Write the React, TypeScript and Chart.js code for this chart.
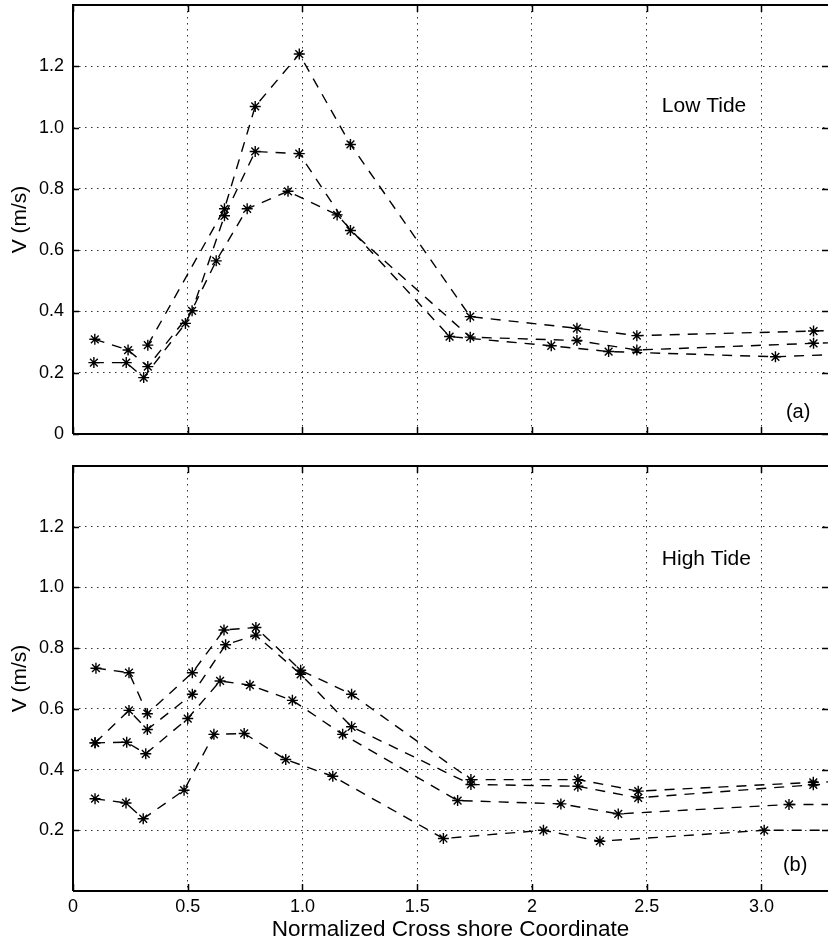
import React, { useEffect, useRef } from 'react';
import { Chart, registerables } from 'chart.js';

Chart.register(...registerables);

// ---- axes ----
const xTicks = [0, 0.5, 1.0, 1.5, 2.0, 2.5, 3.0];
const xTickLabels = ['0', '0.5', '1.0', '1.5', '2', '2.5', '3.0'];
const yTicksLow = [0, 0.2, 0.4, 0.6, 0.8, 1.0, 1.2];
const yTickLabelsLow = ['0', '0.2', '0.4', '0.6', '0.8', '1.0', '1.2'];
const yTicksHigh = [0.2, 0.4, 0.6, 0.8, 1.0, 1.2];
const yTickLabelsHigh = ['0.2', '0.4', '0.6', '0.8', '1.0', '1.2'];
const X_MAX = 3.29;
const Y_MAX = 1.4;

// ---- Low tide (a) ----
const lowAx = [0.326, 0.66, 0.794, 0.986, 1.209, 1.731, 2.196, 2.457, 3.227, 3.4];
const lowAy = [0.29, 0.735, 1.069, 1.24, 0.945, 0.383, 0.345, 0.321, 0.336, 0.34];
const lowBx = [0.095, 0.24, 0.326, 0.519, 0.66, 0.794, 0.986, 1.209, 1.731, 2.196, 2.457, 3.227, 3.4];
const lowBy = [0.309, 0.274, 0.22, 0.402, 0.712, 0.922, 0.915, 0.664, 0.316, 0.305, 0.274, 0.296, 0.3];
const lowCx = [0.091, 0.232, 0.308, 0.49, 0.624, 0.759, 0.937, 1.151, 1.641, 2.084, 2.334, 3.061, 3.4];
const lowCy = [0.233, 0.233, 0.184, 0.361, 0.565, 0.735, 0.792, 0.715, 0.318, 0.288, 0.269, 0.252, 0.262];

// ---- High tide (b) ----
const highAx = [0.1, 0.244, 0.324, 0.52, 0.658, 0.797, 0.992, 1.214, 1.734, 2.2, 2.463, 3.226, 3.4];
const highAy = [0.734, 0.719, 0.584, 0.719, 0.86, 0.868, 0.727, 0.648, 0.367, 0.367, 0.329, 0.358, 0.362];
const highBx = [0.096, 0.244, 0.324, 0.52, 0.665, 0.797, 0.992, 1.214, 1.734, 2.2, 2.463, 3.226, 3.4];
const highBy = [0.488, 0.595, 0.532, 0.648, 0.811, 0.843, 0.714, 0.541, 0.351, 0.345, 0.307, 0.35, 0.355];
const highCx = [0.096, 0.234, 0.317, 0.5, 0.641, 0.771, 0.956, 1.175, 1.676, 2.126, 2.376, 3.12, 3.4];
const highCy = [0.488, 0.49, 0.452, 0.568, 0.692, 0.678, 0.628, 0.516, 0.298, 0.287, 0.254, 0.285, 0.285];
const highDx = [0.096, 0.231, 0.306, 0.484, 0.614, 0.746, 0.927, 1.132, 1.614, 2.05, 2.296, 3.012, 3.4];
const highDy = [0.304, 0.29, 0.238, 0.332, 0.516, 0.519, 0.433, 0.378, 0.173, 0.2, 0.164, 0.2, 0.2];

const FONT = '"Liberation Sans", Arial, Helvetica, sans-serif';

type Note = { text: string; x: number; y: number; size: number };

function makeDataset(xs: number[], ys: number[]) {
  return {
    data: xs.map((v, i) => ({ x: v, y: ys[i] })),
    showLine: true,
    borderColor: '#000',
    borderWidth: 1.4,
    borderDash: [10, 8],
    pointStyle: 'star',
    pointRadius: 5.5,
    pointBorderWidth: 1.4,
    pointBorderColor: '#000',
    pointBackgroundColor: '#000',
    fill: false,
    tension: 0,
  };
}

const framePlugin = {
  id: 'frame',
  afterDraw(chart: any) {
    const { ctx, chartArea } = chart;
    const { left, top, right, bottom } = chartArea;
    const xs = chart.scales.x;
    const ys = chart.scales.y;
    ctx.save();
    ctx.strokeStyle = '#000';
    ctx.lineWidth = 2;
    ctx.beginPath();
    ctx.moveTo(left, bottom);
    ctx.lineTo(left, top);
    ctx.lineTo(right, top);
    ctx.moveTo(left, bottom);
    ctx.lineTo(right, bottom);
    ctx.stroke();
    ctx.lineWidth = 1.5;
    ctx.beginPath();
    xs.ticks.forEach((t: any) => {
      const px = Math.round(xs.getPixelForValue(t.value)) + 0.5;
      ctx.moveTo(px, bottom);
      ctx.lineTo(px, bottom - 7);
      ctx.moveTo(px, top);
      ctx.lineTo(px, top + 7);
    });
    ys.ticks.forEach((t: any) => {
      const py = Math.round(ys.getPixelForValue(t.value)) + 0.5;
      ctx.moveTo(left, py);
      ctx.lineTo(left + 6, py);
      ctx.moveTo(right, py);
      ctx.lineTo(right - 6, py);
    });
    ctx.stroke();
    const notes: Note[] = chart.options.plugins.frame?.notes || [];
    ctx.fillStyle = '#000';
    ctx.textAlign = 'center';
    ctx.textBaseline = 'middle';
    notes.forEach((n) => {
      ctx.font = `${n.size}px ${FONT}`;
      ctx.fillText(n.text, xs.getPixelForValue(n.x), ys.getPixelForValue(n.y));
    });
    ctx.restore();
  },
};

function buildConfig(
  datasets: any[],
  yTicks: number[],
  yLabels: string[],
  showX: boolean,
  padTop: number,
  xHeight: number,
  notes: Note[]
) {
  return {
    type: 'scatter',
    data: { datasets },
    plugins: [framePlugin],
    options: {
      animation: false,
      responsive: false,
      devicePixelRatio: 1,
      layout: { autoPadding: false, padding: { left: 0, right: 0, top: padTop, bottom: 0 } },
      plugins: {
        legend: { display: false },
        tooltip: { enabled: false },
        frame: { notes },
      },
      scales: {
        x: {
          type: 'linear',
          min: 0,
          max: X_MAX,
          afterBuildTicks: (s: any) => {
            s.ticks = xTicks.map((v) => ({ value: v }));
          },
          afterFit: (s: any) => {
            s.height = xHeight;
            s.paddingLeft = 0;
            s.paddingRight = 0;
          },
          ticks: {
            display: showX,
            autoSkip: false,
            maxRotation: 0,
            padding: 5,
            color: '#000',
            font: { family: FONT, size: 18 },
            callback: (_v: any, i: number) => xTickLabels[i],
          },
          grid: { color: '#333', lineWidth: 1, drawTicks: false },
          border: { display: false, dash: [1.5, 4.5] },
          title: {
            display: showX,
            text: 'Normalized Cross shore Coordinate',
            color: '#000',
            font: { family: FONT, size: 22.5 },
            padding: { top: 0, bottom: 0 },
          },
        },
        y: {
          type: 'linear',
          min: 0,
          max: Y_MAX,
          afterBuildTicks: (s: any) => {
            s.ticks = yTicks.map((v) => ({ value: v }));
          },
          afterFit: (s: any) => {
            s.width = 73;
            s.paddingTop = 0;
            s.paddingBottom = 0;
          },
          ticks: {
            padding: 9,
            color: '#000',
            font: { family: FONT, size: 18 },
            callback: (_v: any, i: number) => yLabels[i],
          },
          grid: { color: '#333', lineWidth: 1, drawTicks: false },
          border: { display: false, dash: [1.5, 4.5] },
          title: {
            display: true,
            text: 'V (m/s)',
            color: '#000',
            font: { family: FONT, size: 21 },
            padding: { top: 8, bottom: 0 },
          },
        },
      },
    },
  };
}

export default function App() {
  const topRef = useRef<HTMLCanvasElement | null>(null);
  const botRef = useRef<HTMLCanvasElement | null>(null);

  useEffect(() => {
    const c1 = new Chart(
      topRef.current as HTMLCanvasElement,
      buildConfig(
        [makeDataset(lowAx, lowAy), makeDataset(lowBx, lowBy), makeDataset(lowCx, lowCy)],
        yTicksLow,
        yTickLabelsLow,
        false,
        5,
        6,
        [
          { text: 'Low Tide', x: 2.75, y: 1.07, size: 21 },
          { text: '(a)', x: 3.16, y: 0.071, size: 20 },
        ]
      ) as any
    );
    const c2 = new Chart(
      botRef.current as HTMLCanvasElement,
      buildConfig(
        [
          makeDataset(highAx, highAy),
          makeDataset(highBx, highBy),
          makeDataset(highCx, highCy),
          makeDataset(highDx, highDy),
        ],
        yTicksHigh,
        yTickLabelsHigh,
        true,
        26,
        52,
        [
          { text: 'High Tide', x: 2.76, y: 1.093, size: 21 },
          { text: '(b)', x: 3.147, y: 0.084, size: 20 },
        ]
      ) as any
    );
    return () => {
      c1.destroy();
      c2.destroy();
    };
  }, []);

  return (
    <div>
      <canvas
        ref={topRef}
        width={828}
        height={440}
        style={{ position: 'absolute', left: 0, top: 0, width: 828, height: 440 }}
      />
      <canvas
        ref={botRef}
        width={828}
        height={503}
        style={{ position: 'absolute', left: 0, top: 440, width: 828, height: 503 }}
      />
    </div>
  );
}
